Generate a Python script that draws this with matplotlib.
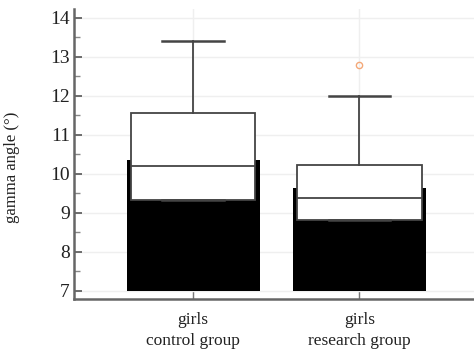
import matplotlib
matplotlib.use("Agg")
import matplotlib.pyplot as plt

# Data
groups = ["girls\ncontrol group", "girls\nresearch group"]
means = [10.35, 9.65]
q1 = [9.34, 8.81]
medians = [10.2, 9.39]
q3 = [11.57, 10.23]
whisker_hi = [13.4, 12.0]
outliers = [[], [12.8]]

plt.rcParams["font.family"] = ["Liberation Serif", "DejaVu Serif"]

fig = plt.figure(figsize=(4.74, 3.57), dpi=100)
ax = fig.add_axes([0.156, 0.162, 0.844, 0.812])

pos = [1, 2]
base = 7

# mean bars behind the boxes
ax.bar(pos, [m - base for m in means], bottom=base, width=0.8,
       color="black", zorder=2)

stats = []
for i in range(len(groups)):
    stats.append(dict(med=medians[i], q1=q1[i], q3=q3[i],
                      whislo=q1[i], whishi=whisker_hi[i],
                      fliers=outliers[i], label=groups[i]))

ax.bxp(stats, positions=pos, widths=0.75, patch_artist=True,
       boxprops=dict(facecolor="white", edgecolor="#444444", linewidth=1.3),
       medianprops=dict(color="#444444", linewidth=1.3),
       whiskerprops=dict(color="#444444", linewidth=1.3),
       capprops=dict(color="#444444", linewidth=1.8),
       capwidths=0.37,
       flierprops=dict(marker="o", markersize=4.5, markerfacecolor="none",
                       markeredgecolor="#f4a878", markeredgewidth=1.0),
       zorder=3)

ax.set_xlim(0.283, 2.69)
ax.set_ylim(6.79, 14.22)
ax.set_yticks(range(7, 15))
ax.set_yticks([7.5 + i for i in range(7)], minor=True)
ax.set_xticks(pos)
ax.set_xticklabels(groups, fontsize=12.5, color="#222222", linespacing=1.45)
ax.tick_params(axis="y", direction="in", labelsize=14, colors="#555555",
               labelcolor="#222222", length=6, width=1.2, pad=3)
ax.tick_params(axis="y", which="minor", direction="in", length=4, width=1,
               colors="#888888")
ax.tick_params(axis="x", direction="in", length=6, width=1, colors="#777777",
               labelcolor="#222222", pad=9)

ax.grid(True, color="#efefef", linewidth=1, zorder=0)
ax.set_axisbelow(True)

for s in ["top", "right"]:
    ax.spines[s].set_visible(False)
for s in ["left", "bottom"]:
    ax.spines[s].set_color("#666666")
    ax.spines[s].set_linewidth(1.8)

ax.set_ylabel("gamma angle (°)", fontsize=12, color="#222222")
ax.yaxis.set_label_coords(-0.135, 0.455)

fig.savefig("out.png", dpi=100)
